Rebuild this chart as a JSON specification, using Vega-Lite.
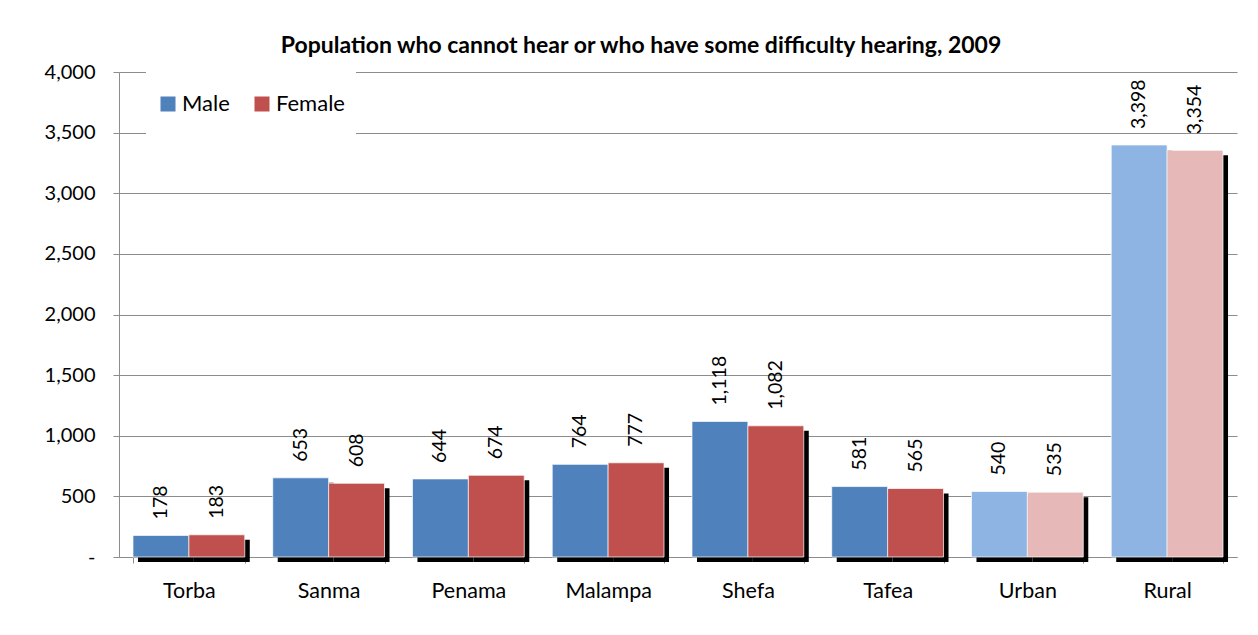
{
  "$schema": "https://vega.github.io/schema/vega-lite/v6.json",
  "width": 1118,
  "height": 485,
  "padding": {"left": 119, "top": 72, "right": 21, "bottom": 78},
  "autosize": {"type": "none"},
  "background": "white",
  "config": {
    "font": "Lato",
    "view": {"stroke": null},
    "axis": {"labelFont": "Lato", "labelColor": "#000000"}
  },
  "title": {
    "text": "Population who cannot hear or who have some difficulty hearing, 2009",
    "font": "Lato",
    "fontSize": 23,
    "fontWeight": "bold",
    "color": "#000000",
    "anchor": "middle",
    "frame": "group",
    "dx": -37,
    "offset": 4
  },
  "data": {
    "values": [
      {"region": "Torba", "sex": "Male", "level": "Province", "value": 178},
      {"region": "Torba", "sex": "Female", "level": "Province", "value": 183},
      {"region": "Sanma", "sex": "Male", "level": "Province", "value": 653},
      {"region": "Sanma", "sex": "Female", "level": "Province", "value": 608},
      {"region": "Penama", "sex": "Male", "level": "Province", "value": 644},
      {"region": "Penama", "sex": "Female", "level": "Province", "value": 674},
      {"region": "Malampa", "sex": "Male", "level": "Province", "value": 764},
      {"region": "Malampa", "sex": "Female", "level": "Province", "value": 777},
      {"region": "Shefa", "sex": "Male", "level": "Province", "value": 1118},
      {"region": "Shefa", "sex": "Female", "level": "Province", "value": 1082},
      {"region": "Tafea", "sex": "Male", "level": "Province", "value": 581},
      {"region": "Tafea", "sex": "Female", "level": "Province", "value": 565},
      {"region": "Urban", "sex": "Male", "level": "Area", "value": 540},
      {"region": "Urban", "sex": "Female", "level": "Area", "value": 535},
      {"region": "Rural", "sex": "Male", "level": "Area", "value": 3398},
      {"region": "Rural", "sex": "Female", "level": "Area", "value": 3354}
    ]
  },
  "encoding": {
    "x": {
      "field": "region",
      "type": "nominal",
      "sort": null,
      "scale": {"paddingInner": 0.2, "paddingOuter": 0.1},
      "axis": {
        "title": null,
        "labelAngle": 0,
        "domainColor": "#8C8C8C",
        "tickColor": "#8C8C8C",
        "tickBand": "extent",
        "tickSize": 6,
        "labelPadding": 17,
        "labelFontSize": 21.5
      }
    },
    "y": {
      "field": "value",
      "type": "quantitative",
      "scale": {"domain": [0, 4000], "nice": false},
      "axis": {
        "title": null,
        "values": [0, 500, 1000, 1500, 2000, 2500, 3000, 3500, 4000],
        "format": ",.0f",
        "labelExpr": "datum.value === 0 ? '-\u00a0\u00a0\u00a0\u00a0\u00a0\u00a0' : datum.label",
        "domainColor": "#8C8C8C",
        "tickColor": "#8C8C8C",
        "gridColor": "#8C8C8C",
        "gridOpacity": 1,
        "tickSize": 6,
        "labelPadding": 18,
        "labelFontSize": 20
      }
    }
  },
  "resolve": {"scale": {"xOffset": "independent"}},
  "layer": [
    {
      "mark": {"type": "bar", "color": "#000000", "yOffset": 5, "y2Offset": -5},
      "encoding": {
        "xOffset": {"field": "sex", "type": "nominal", "sort": ["Male", "Female"], "scale": {"domain": ["Male", "Female"], "range": [5, 116.8], "paddingInner": 0, "paddingOuter": 0}}
      }
    },
    {
      "mark": {"type": "bar", "stroke": "white", "strokeOpacity": 0.7, "strokeWidth": 1},
      "encoding": {
        "xOffset": {"field": "sex", "type": "nominal", "sort": ["Male", "Female"], "scale": {"domain": ["Male", "Female"], "paddingInner": 0}},
        "color": {
          "field": "sex",
          "type": "nominal",
          "scale": {"domain": ["Male", "Female"], "range": ["#4F81BD", "#C0504D"]},
          "condition": [
            {"test": "datum.level === 'Area' && datum.sex === 'Male'", "value": "#8EB4E3"},
            {"test": "datum.level === 'Area' && datum.sex === 'Female'", "value": "#E6B8B7"}
          ],
          "legend": {
            "title": null,
            "orient": "none",
            "legendX": 27,
            "legendY": -1,
            "direction": "horizontal",
            "fillColor": "white",
            "padding": 11,
            "clipHeight": 44,
            "symbolType": "square",
            "symbolSize": 225,
            "symbolStrokeWidth": 0,
            "labelFont": "Lato",
            "labelFontSize": 22,
            "labelColor": "#000000",
            "labelOffset": 3,
            "columnPadding": 21
          }
        }
      }
    },
    {
      "mark": {"type": "text", "angle": 270, "align": "left", "baseline": "middle", "dx": 16, "font": "Lato", "fontSize": 19.5, "color": "#000000"},
      "encoding": {
        "xOffset": {"field": "sex", "type": "nominal", "sort": ["Male", "Female"], "scale": {"domain": ["Male", "Female"], "paddingInner": 0}},
        "text": {"field": "value", "type": "quantitative", "format": ","}
      }
    }
  ]
}
